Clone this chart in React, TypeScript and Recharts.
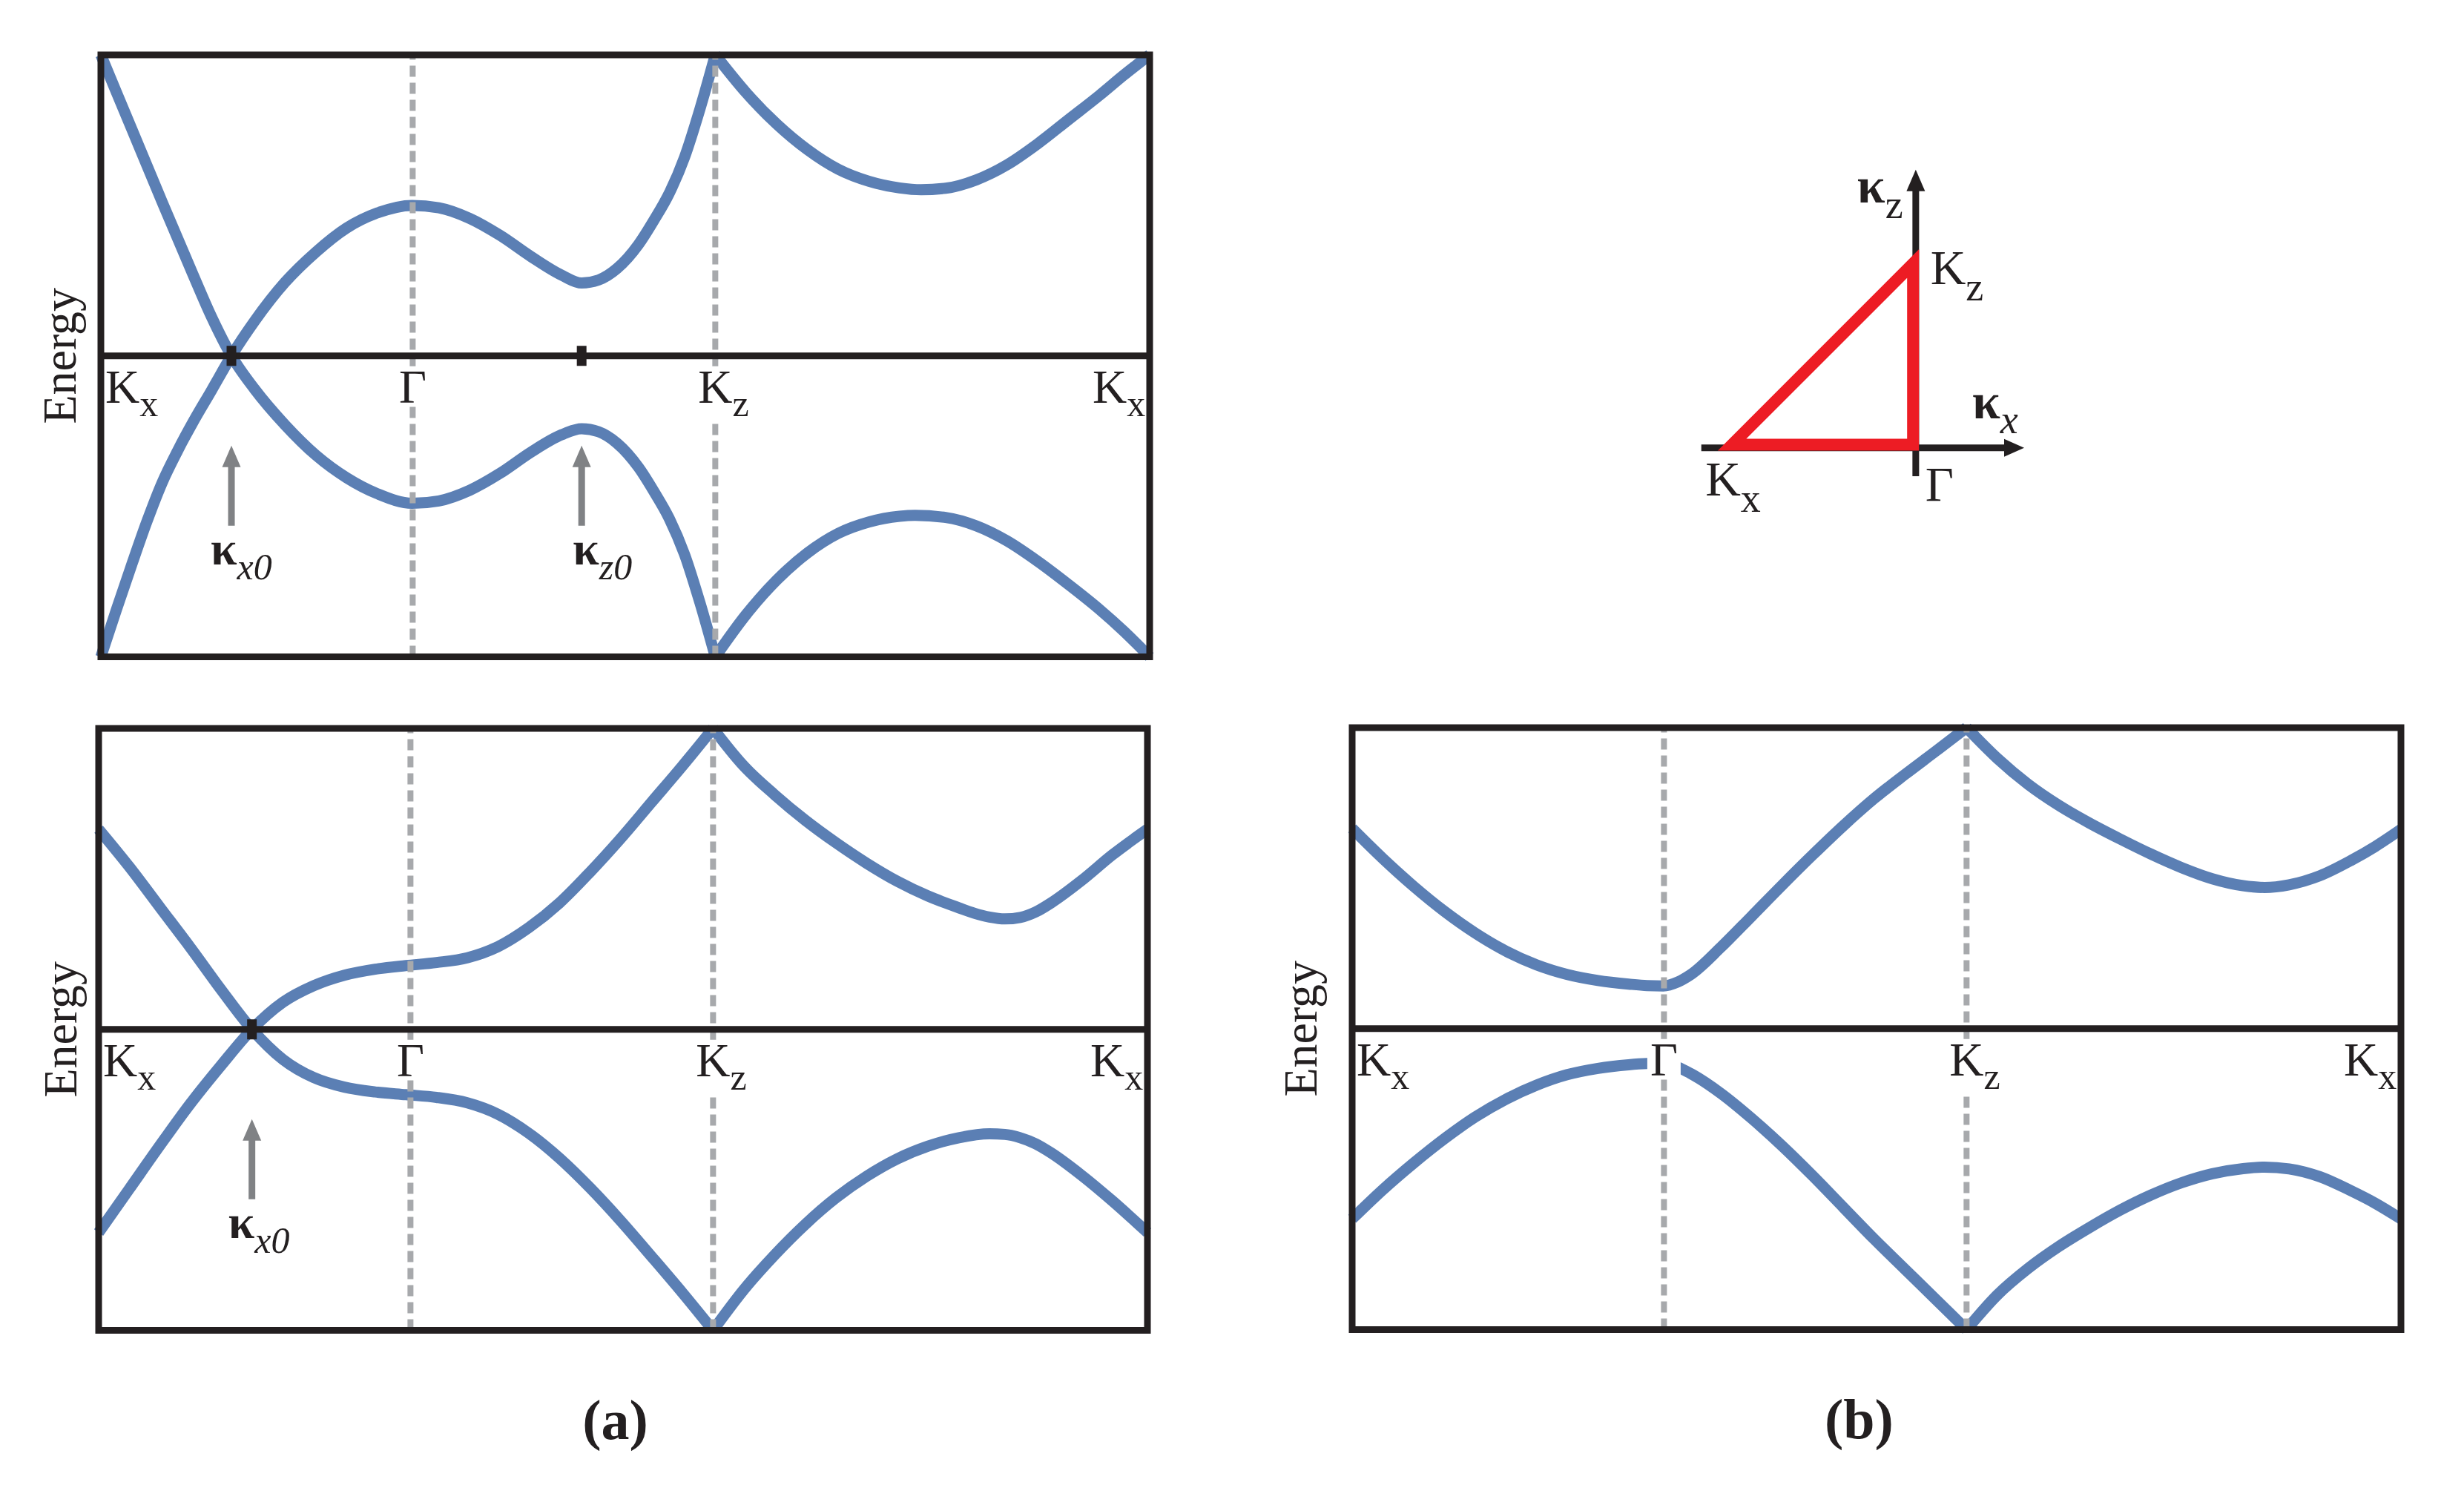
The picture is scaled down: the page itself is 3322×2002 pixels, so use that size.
import React from "react";
import { LineChart, Line, XAxis, YAxis, ReferenceLine, ReferenceArea, ReferenceDot } from "recharts";

type Pt = [number, number];

const FONT = "'Liberation Serif', 'Times New Roman', Times, serif";
const BLUE = "#5b7fb4";
const INK = "#231f20";
const GREY = "#a7a9ac";
const ARROW = "#808285";
const RED = "#ed1c24";

// k path Kx -> Γ -> Kz -> Kx (legs 1 : 1 : √2)
const K_END = 3.414;
const kTicks = [0, 1.015, 2.0, K_END];
const kTickText = ["K", "Γ", "K", "K"];
const kTickSub = ["x", "", "z", "x"];

// (a) top panel: bands cross at κx0, gap extremum at κz0
const a1Falling: Pt[] = [
  [0, 1.0], [0.1, 0.755], [0.2, 0.51], [0.3, 0.27], [0.36, 0.13], [0.425, 0.0],
  [0.5, -0.11], [0.6, -0.23], [0.7, -0.33], [0.8, -0.405], [0.9, -0.458], [1.013, -0.49],
  [1.1, -0.482], [1.2, -0.447], [1.3, -0.39], [1.4, -0.32], [1.5, -0.262], [1.565, -0.242],
  [1.62, -0.252], [1.68, -0.29], [1.75, -0.37], [1.8, -0.45], [1.85, -0.54], [1.9, -0.66],
  [1.95, -0.82], [2.0, -1.0],
];
const a1Rising: Pt[] = [
  [0, -1.0], [0.05, -0.845], [0.1, -0.695], [0.15, -0.55], [0.2, -0.42], [0.25, -0.315],
  [0.3, -0.22], [0.36, -0.115], [0.425, 0.0], [0.5, 0.115], [0.6, 0.245], [0.7, 0.345],
  [0.8, 0.425], [0.9, 0.475], [1.013, 0.5], [1.1, 0.492], [1.2, 0.457], [1.3, 0.4],
  [1.4, 0.33], [1.5, 0.268], [1.565, 0.242], [1.62, 0.252], [1.68, 0.29], [1.75, 0.37],
  [1.8, 0.45], [1.85, 0.54], [1.9, 0.66], [1.95, 0.82], [2.0, 1.0],
];
const a1RightUpper: Pt[] = [
  [2.0, 1.0], [2.1, 0.875], [2.2, 0.77], [2.3, 0.685], [2.4, 0.62], [2.5, 0.58],
  [2.6, 0.558], [2.67, 0.552], [2.75, 0.557], [2.85, 0.585], [2.95, 0.635], [3.05, 0.705],
  [3.15, 0.785], [3.25, 0.865], [3.33, 0.933], [3.414, 1.0],
];
const a1RightLower: Pt[] = [
  [2.0, -1.0], [2.1, -0.86], [2.2, -0.745], [2.3, -0.655], [2.4, -0.59], [2.5, -0.552],
  [2.6, -0.533], [2.65, -0.53], [2.75, -0.537], [2.85, -0.565], [2.95, -0.615], [3.05, -0.683],
  [3.15, -0.76], [3.25, -0.842], [3.33, -0.915], [3.414, -1.0],
];
const a1Kappa = [0.425, 1.565];
const a1KappaSub = ["x0", "z0"];

// (a) bottom panel
const a2Falling: Pt[] = [
  [0, 0.665], [0.1, 0.54], [0.2, 0.405], [0.3, 0.27], [0.4, 0.13], [0.499, 0.0],
  [0.6, -0.1], [0.7, -0.16], [0.8, -0.192], [0.9, -0.208], [1.0, -0.217], [1.1, -0.226],
  [1.2, -0.244], [1.3, -0.282], [1.4, -0.345], [1.5, -0.428], [1.6, -0.527], [1.7, -0.637],
  [1.8, -0.755], [1.9, -0.875], [2.0, -1.0],
];
const a2Rising: Pt[] = [
  [0, -0.675], [0.1, -0.53], [0.2, -0.385], [0.3, -0.245], [0.4, -0.118], [0.499, 0.0],
  [0.6, 0.09], [0.7, 0.145], [0.8, 0.18], [0.9, 0.2], [1.0, 0.212], [1.1, 0.222],
  [1.2, 0.238], [1.3, 0.275], [1.4, 0.338], [1.5, 0.42], [1.6, 0.523], [1.7, 0.635],
  [1.8, 0.755], [1.9, 0.875], [2.0, 1.0],
];
const a2RightUpper: Pt[] = [
  [2.0, 1.0], [2.1, 0.875], [2.2, 0.78], [2.3, 0.695], [2.4, 0.62], [2.5, 0.552],
  [2.6, 0.492], [2.7, 0.443], [2.8, 0.404], [2.85, 0.386], [2.9, 0.373], [2.95, 0.367],
  [3.0, 0.372], [3.05, 0.39], [3.1, 0.42], [3.2, 0.495], [3.3, 0.58], [3.414, 0.665],
];
const a2RightLower: Pt[] = [
  [2.0, -1.0], [2.1, -0.865], [2.2, -0.75], [2.3, -0.648], [2.4, -0.56], [2.5, -0.488],
  [2.6, -0.43], [2.7, -0.388], [2.8, -0.36], [2.9, -0.347], [2.95, -0.349], [3.0, -0.36],
  [3.05, -0.38], [3.1, -0.41], [3.2, -0.485], [3.3, -0.57], [3.414, -0.675],
];
const a2Kappa = [0.499];
const a2KappaSub = ["x0"];

// (b) gapped bands
const bUpperLeft: Pt[] = [
  [0, 0.665], [0.1, 0.565], [0.2, 0.473], [0.3, 0.39], [0.4, 0.318], [0.5, 0.258],
  [0.6, 0.212], [0.7, 0.18], [0.8, 0.16], [0.9, 0.148], [0.96, 0.143], [1.013, 0.142],
  [1.06, 0.155], [1.1, 0.178], [1.2, 0.27], [1.3, 0.373], [1.4, 0.477], [1.5, 0.578],
  [1.6, 0.675], [1.7, 0.765], [1.8, 0.845], [1.9, 0.922], [2.0, 1.0],
];
const bUpperRight: Pt[] = [
  [2.0, 1.0], [2.1, 0.898], [2.2, 0.812], [2.3, 0.742], [2.4, 0.683], [2.5, 0.63],
  [2.6, 0.58], [2.7, 0.535], [2.8, 0.498], [2.9, 0.475], [2.97, 0.469], [3.05, 0.478],
  [3.15, 0.508], [3.25, 0.558], [3.33, 0.605], [3.414, 0.662],
];
const bLowerLeft: Pt[] = [
  [0, -0.632], [0.1, -0.535], [0.2, -0.447], [0.3, -0.366], [0.4, -0.294], [0.5, -0.235],
  [0.6, -0.188], [0.7, -0.153], [0.8, -0.132], [0.9, -0.12], [0.96, -0.116], [1.013, -0.115],
  [1.06, -0.128], [1.1, -0.148], [1.2, -0.215], [1.3, -0.298], [1.4, -0.39], [1.5, -0.49],
  [1.6, -0.595], [1.7, -0.7], [1.8, -0.8], [1.9, -0.9], [2.0, -1.0],
];
const bLowerRight: Pt[] = [
  [2.0, -1.0], [2.1, -0.885], [2.2, -0.797], [2.3, -0.724], [2.4, -0.661], [2.5, -0.603],
  [2.6, -0.553], [2.7, -0.512], [2.8, -0.482], [2.9, -0.465], [2.97, -0.46], [3.05, -0.466],
  [3.15, -0.492], [3.25, -0.538], [3.33, -0.58], [3.414, -0.632],
];

// inset: reduced zone wedge Kx - Γ - Kz
const insetAxisX: Pt[] = [[-1.17, -0.018], [0.52, -0.018]];
const insetAxisZ: Pt[] = [[0.015, -0.175], [0.015, 1.42]];
const insetWedge: Pt[] = [[0, 0], [0, 1], [-1, 0], [0, 0]];

const rows = (pts: Pt[]) => pts.map(([k, e]) => ({ k, e }));
const xyRows = (pts: Pt[]) => pts.map(([x, y]) => ({ x, y }));

const FRAME_W = 1414;
const FRAME_H = 811.5;
const M = { top: 30, right: 30, bottom: 190, left: 120 };

// label placement relative to the tick position
const tickDx = [6, -18.5, -23, -77];
const tickW = [71, 37, 68, 71];

const TickLabel = ({ cx, cy, i }: any) => {
  const x0 = cx + tickDx[i];
  const hasSub = kTickSub[i] !== "";
  return (
    <g>
      <rect x={x0 - 4} y={cy + 14} width={tickW[i] + 8} height={hasSub ? 72 : 53} fill="#fff" />
      <text x={x0} y={cy + 63} fontFamily={FONT} fontSize={64} fill={INK}>
        {kTickText[i]}
        {hasSub && (
          <tspan dy={18} fontSize={50}>
            {kTickSub[i]}
          </tspan>
        )}
      </text>
    </g>
  );
};

const KappaArrow = ({ cx, cy, sub, dx }: any) => (
  <g>
    <polygon points={`${cx},${cy + 121} ${cx - 12.5},${cy + 150} ${cx + 12.5},${cy + 150}`} fill={ARROW} />
    <rect x={cx - 4.5} y={cy + 148} width={9} height={81} fill={ARROW} />
    <text x={cx + dx} y={cy + 281} fontFamily={FONT} fontSize={64} fontWeight="bold" fill={INK}>
      κ
      <tspan dy={20} fontSize={50} fontStyle="italic" fontWeight="normal">
        {sub}
      </tspan>
    </text>
  </g>
);

const Panel = ({ left, top, curves, kappas = [], kappaSubs = [], kappaDx = [], energyDx, caption, captionDx }: any) => (
  <div style={{ position: "absolute", left: left - M.left, top: top - M.top }}>
    <LineChart width={FRAME_W + M.left + M.right} height={FRAME_H + M.top + M.bottom} margin={M}>
      <XAxis type="number" dataKey="k" domain={[0, K_END]} hide />
      <YAxis type="number" domain={[-1, 1]} hide />
      {curves.map((c: Pt[], i: number) => (
        <Line
          key={"c" + i}
          data={rows(c)}
          dataKey="e"
          type="monotone"
          stroke={BLUE}
          strokeWidth={15}
          dot={false}
          activeDot={false}
          isAnimationActive={false}
        />
      ))}
      {[kTicks[1], kTicks[2]].map((k) => (
        <ReferenceLine key={"d" + k} x={k} stroke={GREY} strokeWidth={8} strokeDasharray="15 8" zIndex={500} />
      ))}
      {kTicks.map((k, i) => (
        <ReferenceDot key={"t" + i} x={k} y={0} r={1} zIndex={600} shape={(p: any) => <TickLabel cx={p.cx} cy={p.cy} i={i} />} />
      ))}
      {kappas.map((k: number, i: number) => (
        <ReferenceDot
          key={"a" + i}
          x={k}
          y={0}
          r={1}
          zIndex={600}
          shape={(p: any) => <KappaArrow cx={p.cx} cy={p.cy} sub={kappaSubs[i]} dx={kappaDx[i]} />}
        />
      ))}
      <ReferenceLine y={0} stroke={INK} strokeWidth={9} zIndex={700} />
      {kappas.map((k: number, i: number) => (
        <ReferenceDot
          key={"m" + i}
          x={k}
          y={0}
          r={1}
          zIndex={800}
          shape={(p: any) => <rect x={p.cx - 6.5} y={p.cy - 13.5} width={13} height={27} fill={INK} />}
        />
      ))}
      <ReferenceArea x1={0} x2={K_END} y1={-1} y2={1} fill="none" stroke={INK} strokeWidth={9} zIndex={900} />
      <ReferenceDot
        x={0}
        y={0}
        r={1}
        zIndex={1000}
        shape={(p: any) => (
          <text
            x={p.cx + energyDx}
            y={p.cy}
            transform={`rotate(-90 ${p.cx + energyDx} ${p.cy})`}
            textAnchor="middle"
            fontFamily={FONT}
            fontSize={64}
            fill={INK}
          >
            Energy
          </text>
        )}
      />
      {caption && (
        <ReferenceDot
          x={K_END / 2}
          y={-1}
          r={1}
          zIndex={1000}
          shape={(p: any) => (
            <text x={p.cx + captionDx} y={p.cy + 146.5} textAnchor="middle" fontFamily={FONT} fontSize={76} fontWeight="bold" fill={INK}>
              {caption}
            </text>
          )}
        />
      )}
    </LineChart>
  </div>
);

const InsetLabel = ({ cx, cy, dx, dy, main, sub, subDy, bold, subItalic, size, subSize }: any) => (
  <text x={cx + dx} y={cy + dy} fontFamily={FONT} fontSize={size} fontWeight={bold ? "bold" : "normal"} fill={INK}>
    {main}
    <tspan dy={subDy} fontSize={subSize} fontWeight="normal" fontStyle={subItalic ? "italic" : "normal"}>
      {sub}
    </tspan>
  </text>
);

const Inset = () => (
  <div style={{ position: "absolute", left: 2251.8, top: 198.6 }}>
    <LineChart width={508} height={508} margin={{ top: 10, right: 10, bottom: 10, left: 10 }}>
      <XAxis type="number" dataKey="x" domain={[-1.3, 0.7]} hide />
      <YAxis type="number" domain={[-0.4, 1.6]} hide />
      <Line data={xyRows(insetAxisX)} dataKey="y" type="linear" stroke={INK} strokeWidth={9} dot={false} activeDot={false} isAnimationActive={false} />
      <Line data={xyRows(insetAxisZ)} dataKey="y" type="linear" stroke={INK} strokeWidth={9} dot={false} activeDot={false} isAnimationActive={false} />
      <Line
        data={xyRows(insetWedge)}
        dataKey="y"
        type="linear"
        stroke={RED}
        strokeWidth={16}
        strokeLinecap="square"
        dot={false}
        activeDot={false}
        isAnimationActive={false}
      />
      <ReferenceDot
        x={0.614}
        y={-0.018}
        r={1}
        shape={(p: any) => <polygon points={`${p.cx},${p.cy} ${p.cx - 27},${p.cy - 12} ${p.cx - 27},${p.cy + 12}`} fill={INK} />}
      />
      <ReferenceDot
        x={0.015}
        y={1.519}
        r={1}
        shape={(p: any) => <polygon points={`${p.cx},${p.cy} ${p.cx - 12.5},${p.cy + 29} ${p.cx + 12.5},${p.cy + 29}`} fill={INK} />}
      />
      <ReferenceDot x={0.015} y={1.519} r={1} shape={(p: any) => <InsetLabel cx={p.cx} cy={p.cy} dx={-79} dy={44} main="κ" sub="z" subDy={21} bold size={68} subSize={54} />} />
      <ReferenceDot x={0} y={1} r={1} shape={(p: any) => <InsetLabel cx={p.cx} cy={p.cy} dx={23.5} dy={28} main="K" sub="z" subDy={22} size={66} subSize={54} />} />
      <ReferenceDot x={0.614} y={-0.018} r={1} shape={(p: any) => <InsetLabel cx={p.cx} cy={p.cy} dx={-70} dy={-40} main="κ" sub="x" subDy={20} bold subItalic size={68} subSize={54} />} />
      <ReferenceDot x={-1} y={0} r={1} shape={(p: any) => <InsetLabel cx={p.cx} cy={p.cy} dx={-36} dy={69} main="K" sub="x" subDy={22} size={66} subSize={54} />} />
      <ReferenceDot x={0} y={0} r={1} shape={(p: any) => <InsetLabel cx={p.cx} cy={p.cy} dx={16.5} dy={76} main="Γ" sub="" subDy={0} size={66} subSize={54} />} />
    </LineChart>
  </div>
);

export default function App() {
  return (
    <div style={{ position: "absolute", left: 0, top: 0, width: 3322, height: 2002, background: "#fff", fontFamily: FONT }}>
      <Panel
        left={135.5}
        top={74}
        curves={[a1Falling, a1Rising, a1RightUpper, a1RightLower]}
        kappas={a1Kappa}
        kappaSubs={a1KappaSub}
        kappaDx={[-28, -12]}
        energyDx={-34.5}
      />
      <Panel
        left={132.5}
        top={982}
        curves={[a2Falling, a2Rising, a2RightUpper, a2RightLower]}
        kappas={a2Kappa}
        kappaSubs={a2KappaSub}
        kappaDx={[-32]}
        energyDx={-30}
        caption="(a)"
        captionDx={-10.5}
      />
      <Panel
        left={1822.5}
        top={981}
        curves={[bUpperLeft, bUpperRight, bLowerLeft, bLowerRight]}
        energyDx={-48.5}
        caption="(b)"
        captionDx={-23.5}
      />
      <Inset />
    </div>
  );
}
